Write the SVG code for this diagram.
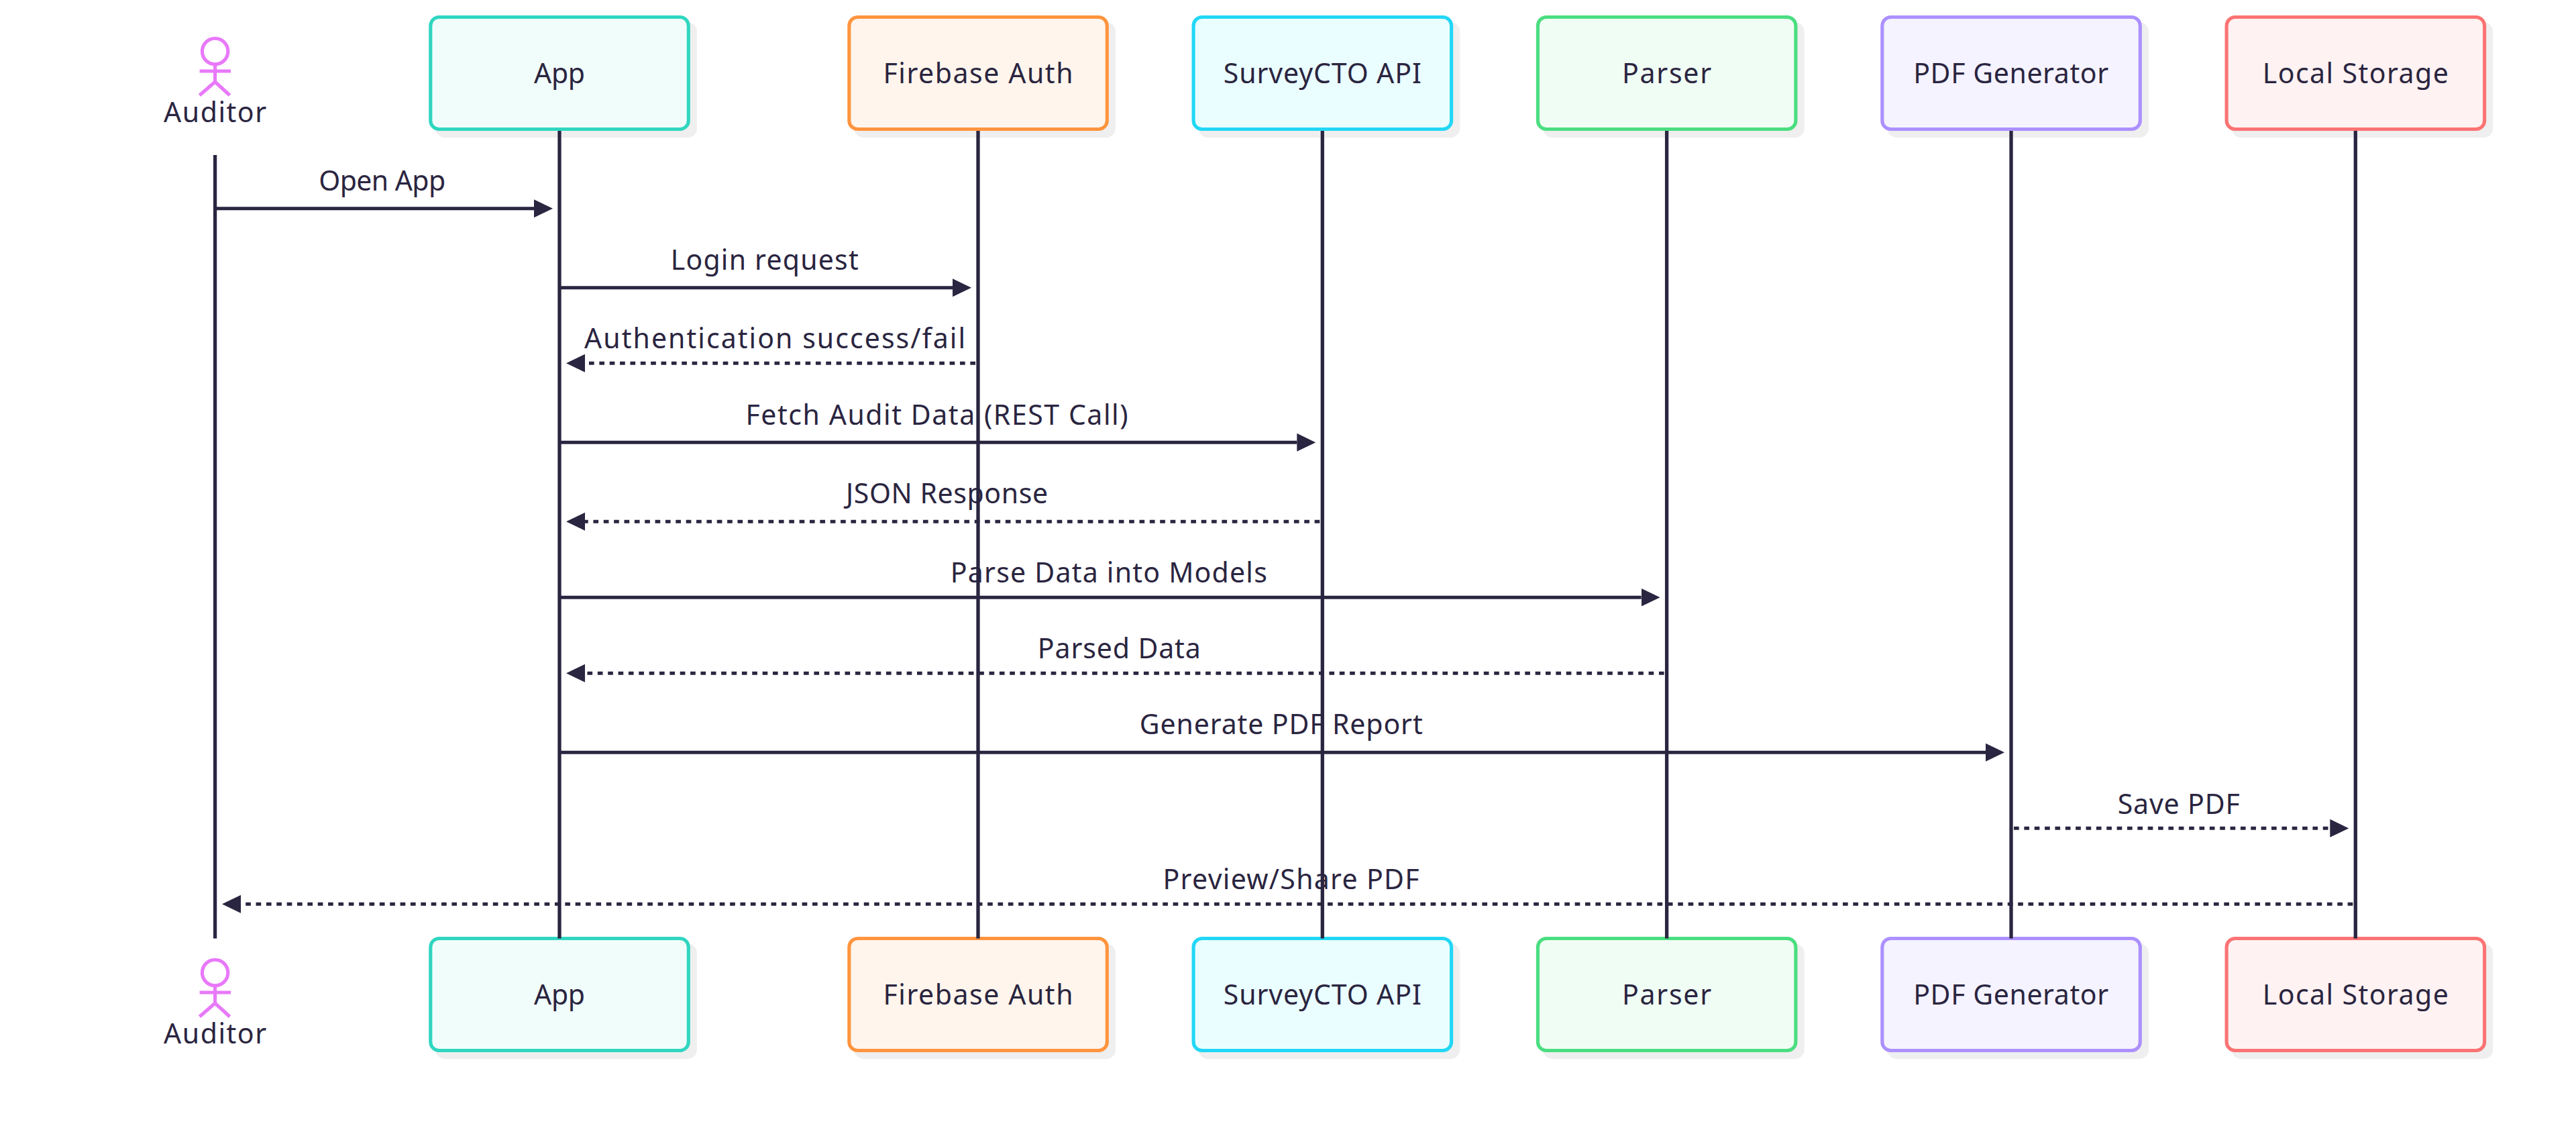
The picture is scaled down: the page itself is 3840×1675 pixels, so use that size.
<svg xmlns="http://www.w3.org/2000/svg" width="3840" height="1675" viewBox="0 0 3840 1675">
<style>
text{font-family:"Noto Sans","Liberation Sans",sans-serif;font-size:41px;fill:#2a2540;text-anchor:middle}
.shadow{fill:#efefef}
.box{stroke-width:5.120}
.actor{fill:none;stroke:#e879f9;stroke-width:5.120}
.life{stroke:#2a2540;stroke-width:5.300;fill:none}
.msg{stroke:#2a2540;stroke-width:5.120;fill:none}
.dash{stroke-dasharray:7.68 7.68}
.end{marker-end:url(#arrow)}
.teal{fill:#f0fdfa;stroke:#30d6c0}
.orange{fill:#fff5ec;stroke:#ff943e}
.cyan{fill:#eafeff;stroke:#22d7f5}
.green{fill:#f0fdf4;stroke:#4ade80}
.violet{fill:#f5f3ff;stroke:#ac90ff}
.red{fill:#fff2f2;stroke:#fb7373}
</style>
<defs>
<marker id="arrow" markerUnits="userSpaceOnUse" markerWidth="28" markerHeight="28" refX="0" refY="14" orient="auto"><path d="M0 .5L28 14L0 27.500z" fill="#2a2540"/></marker>
<g id="stick"><circle cx="320.600" cy="76.500" r="19.200" class="actor"/><path d="M320.600 98V122M297.600 106H344M297.500 142L320.600 122L342.500 142" class="actor"/></g>
</defs>
<rect width="3840" height="1675" fill="#fff"/>
<g id="actor-auditor-top"><use href="#stick"/><text x="320.600" y="182" textLength="153">Auditor</text></g>
<g id="actor-app-top"><rect class="shadow" x="649.500" y="33.200" width="389.500" height="172" rx="14"/><rect class="box teal" x="641.800" y="25.500" width="384.500" height="167" rx="12.800"/><text x="834" y="123.500" textLength="76">App</text></g>
<g id="actor-firebase-top"><rect class="shadow" x="1273.500" y="33.200" width="389.500" height="172" rx="14"/><rect class="box orange" x="1265.800" y="25.500" width="384.500" height="167" rx="12.800"/><text x="1458" y="123.500" textLength="283">Firebase Auth</text></g>
<g id="actor-surveycto-top"><rect class="shadow" x="1786.800" y="33.200" width="389.500" height="172" rx="14"/><rect class="box cyan" x="1779.100" y="25.500" width="384.500" height="167" rx="12.800"/><text x="1971.300" y="123.500" textLength="295">SurveyCTO API</text></g>
<g id="actor-parser-top"><rect class="shadow" x="2300.100" y="33.200" width="389.500" height="172" rx="14"/><rect class="box green" x="2292.400" y="25.500" width="384.500" height="167" rx="12.800"/><text x="2484.600" y="123.500" textLength="133">Parser</text></g>
<g id="actor-pdf-top"><rect class="shadow" x="2813.500" y="33.200" width="389.500" height="172" rx="14"/><rect class="box violet" x="2805.800" y="25.500" width="384.500" height="167" rx="12.800"/><text x="2997.700" y="123.500" textLength="291">PDF Generator</text></g>
<g id="actor-storage-top"><rect class="shadow" x="3326.800" y="33.200" width="389.500" height="172" rx="14"/><rect class="box red" x="3319.100" y="25.500" width="384.500" height="167" rx="12.800"/><text x="3511.300" y="123.500" textLength="277">Local Storage</text></g>
<g id="actor-auditor-bottom"><use href="#stick" y="1373"/><text x="320.600" y="1555" textLength="153">Auditor</text></g>
<g id="actor-app-bottom"><rect class="shadow" x="649.500" y="1406.200" width="389.500" height="172" rx="14"/><rect class="box teal" x="641.800" y="1398.500" width="384.500" height="167" rx="12.800"/><text x="834" y="1496.500" textLength="76">App</text></g>
<g id="actor-firebase-bottom"><rect class="shadow" x="1273.500" y="1406.200" width="389.500" height="172" rx="14"/><rect class="box orange" x="1265.800" y="1398.500" width="384.500" height="167" rx="12.800"/><text x="1458" y="1496.500" textLength="283">Firebase Auth</text></g>
<g id="actor-surveycto-bottom"><rect class="shadow" x="1786.800" y="1406.200" width="389.500" height="172" rx="14"/><rect class="box cyan" x="1779.100" y="1398.500" width="384.500" height="167" rx="12.800"/><text x="1971.300" y="1496.500" textLength="295">SurveyCTO API</text></g>
<g id="actor-parser-bottom"><rect class="shadow" x="2300.100" y="1406.200" width="389.500" height="172" rx="14"/><rect class="box green" x="2292.400" y="1398.500" width="384.500" height="167" rx="12.800"/><text x="2484.600" y="1496.500" textLength="133">Parser</text></g>
<g id="actor-pdf-bottom"><rect class="shadow" x="2813.500" y="1406.200" width="389.500" height="172" rx="14"/><rect class="box violet" x="2805.800" y="1398.500" width="384.500" height="167" rx="12.800"/><text x="2997.700" y="1496.500" textLength="291">PDF Generator</text></g>
<g id="actor-storage-bottom"><rect class="shadow" x="3326.800" y="1406.200" width="389.500" height="172" rx="14"/><rect class="box red" x="3319.100" y="1398.500" width="384.500" height="167" rx="12.800"/><text x="3511.300" y="1496.500" textLength="277">Local Storage</text></g>
<g id="connectors">
<g id="lifelines">
<path class="life" d="M320.600 231V1398.500"/>
<path class="life" d="M834 195V1398.500"/>
<path class="life" d="M1458 195V1398.500"/>
<path class="life" d="M1971.300 195V1398.500"/>
<path class="life" d="M2484.600 195V1398.500"/>
<path class="life" d="M2998 195V1398.500"/>
<path class="life" d="M3511.300 195V1398.500"/>
</g>
<path class="msg end" d="M323 310.700H796"/>
<path class="msg end" d="M836 428.700H1420"/>
<path class="msg dash end" d="M1454 541.300H872"/>
<path class="msg end" d="M836 659.300H1933.300"/>
<path class="msg dash end" d="M1967.300 777.300H872"/>
<path class="msg end" d="M836 890.300H2446.600"/>
<path class="msg dash end" d="M2480.600 1003.300H872"/>
<path class="msg end" d="M836 1121.300H2960"/>
<path class="msg dash end" d="M3002 1234.300H3473.300"/>
<path class="msg dash end" d="M3507.300 1347.300H359"/>
<text x="569.700" y="283.700" textLength="189">Open App</text>
<text x="1139.700" y="401.700" textLength="280">Login request</text>
<text x="1155" y="519.300" textLength="568">Authentication success/fail</text>
<text x="1396.500" y="632.700" textLength="570">Fetch Audit Data (REST Call)</text>
<text x="1411.500" y="750.300" textLength="301">JSON Response</text>
<text x="1652.800" y="868.300" textLength="472">Parse Data into Models</text>
<text x="1668.300" y="981" textLength="243">Parsed Data</text>
<text x="1909.700" y="1094.300" textLength="422">Generate PDF Report</text>
<text x="3247.700" y="1212.700" textLength="182">Save PDF</text>
<text x="1924.500" y="1325.300" textLength="382">Preview/Share PDF</text>
</g>
</svg>
